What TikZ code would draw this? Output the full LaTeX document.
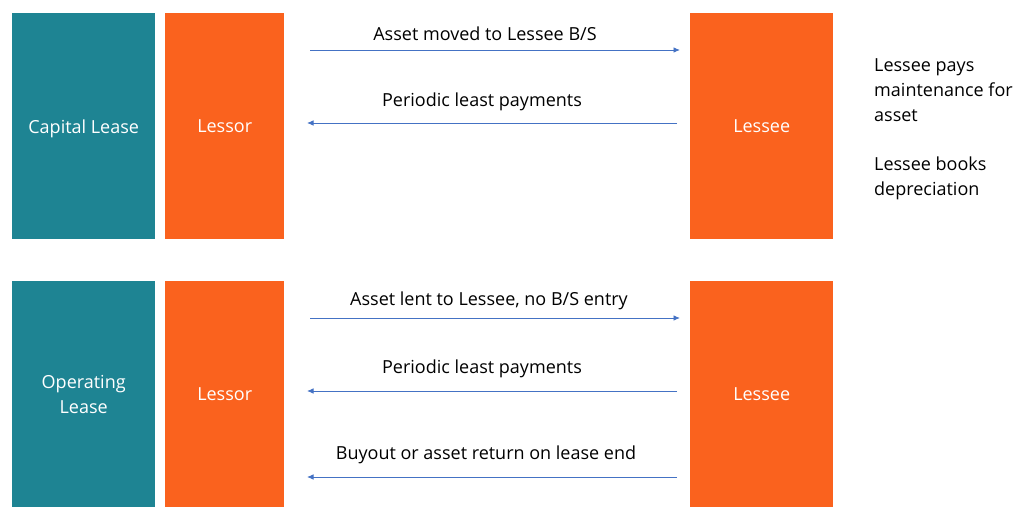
\documentclass[tikz,border=0pt]{standalone}
\usepackage{fontspec}
\setmainfont{Open Sans}
\usetikzlibrary{arrows.meta}
\definecolor{tealbox}{RGB}{30,132,147}
\definecolor{orangebox}{RGB}{250,98,30}
\definecolor{arrowblue}{RGB}{68,114,196}
\begin{document}
\begin{tikzpicture}[x=1pt,y=-1pt,
  box/.style={anchor=north west,inner sep=0pt,minimum height=226pt,text=white,
    font=\fontsize{18}{25}\selectfont,align=center},
  tealb/.style={box,fill=tealbox,minimum width=143pt},
  lessorb/.style={box,fill=orangebox,minimum width=119pt},
  lesseeb/.style={box,fill=orangebox,minimum width=143pt},
  lbl/.style={font=\fontsize{18}{25}\selectfont,text=black,inner sep=0pt},
  arr/.style={draw=arrowblue,line width=0.9pt,-{Latex[length=6.5pt,width=5.5pt]}}]
\useasboundingbox (0,0) rectangle (1024,522);
% top row
\node[tealb,text height=14pt,text depth=0pt] (cap) at (12,13) {Capital Lease};
\node[lessorb] (lessor1) at (165,13) {Lessor};
\node[lesseeb] (lessee1) at (690,13) {Lessee};
% bottom row
\node[tealb] (op) at (12,281) {Operating\\Lease};
\node[lessorb] (lessor2) at (165,281) {Lessor};
\node[lesseeb] (lessee2) at (690,281) {Lessee};
% arrows top
\coordinate (a1s) at (310,50); \coordinate (a1e) at (680,50);
\coordinate (a2s) at (677,123); \coordinate (a2e) at (307,123);
\draw[arr] (a1s) -- (a1e);
\draw[arr] (a2s) -- (a2e);
\node[lbl] (t1) at (485,34) {Asset moved to Lessee B/S};
\node[lbl] (t2) at (482,102) {Periodic least payments};
% arrows bottom
\coordinate (b1s) at (310,318); \coordinate (b1e) at (680,318);
\coordinate (b2s) at (677,391); \coordinate (b2e) at (307,391);
\coordinate (b3s) at (677,477); \coordinate (b3e) at (307,477);
\draw[arr] (b1s) -- (b1e);
\draw[arr] (b2s) -- (b2e);
\draw[arr] (b3s) -- (b3e);
\node[lbl] (u1) at (489,301) {Asset lent to Lessee, no B/S entry};
\node[lbl] (u2) at (482,369) {Periodic least payments};
\node[lbl] (u3) at (486,455) {Buyout or asset return on lease end};
% side notes
\node[lbl,anchor=north west,align=left] (n1) at (874,58) {Lessee pays\\maintenance for\\asset};
\node[lbl,anchor=north west,align=left] (n2) at (874,157) {Lessee books\\depreciation};
\end{tikzpicture}
\end{document}
